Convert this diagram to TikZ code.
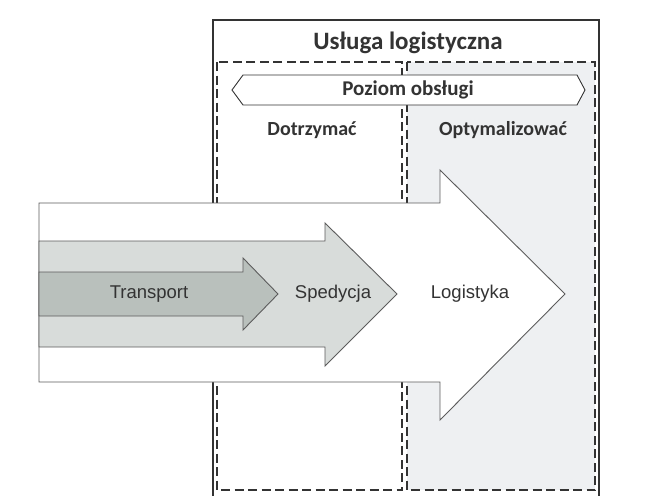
\documentclass[tikz,border=0pt]{standalone}
\usepackage{fontspec}
\setmainfont{Carlito}
\newfontfamily\arrowfont{Liberation Sans}
\usepackage{tikz}
\tikzset{>=latex}
\definecolor{inkgray}{HTML}{333333}
\definecolor{transgray}{HTML}{B9C0BC}
\definecolor{spedgray}{HTML}{D8DCDA}
\definecolor{optgray}{HTML}{EEF0F2}
\tikzset{
  areabox/.style={draw=inkgray,line width=1.2pt,dash pattern=on 9pt off 4.5pt},
  flowarrow/.style={draw=inkgray!80,line width=0.9pt,line join=miter},
  headtext/.style={font=\bfseries\fontsize{20}{24}\selectfont,text=inkgray},
  flowtext/.style={font=\arrowfont\fontsize{18.5}{22}\selectfont,text=inkgray}
}

\begin{document}
\begin{tikzpicture}[x=1pt,y=-1pt]
            \draw[draw=none,fill=white,use as bounding box] (0,0) rectangle (649,496);
            % service frame
            \coordinate (fl) at (213,496);
            \coordinate (fr) at (599,496);
            \draw[inkgray,line width=1.3pt] (fl) -- (213,20) -- (599,20) -- (fr);
            \node[headtext,font=\bfseries\fontsize{25}{30}\selectfont] (usluga) at (408,43) {Usługa logistyczna};
            % keep / optimise areas
            \draw[areabox] (217,62) rectangle (402,490);
            \draw[areabox,fill=optgray] (407,62) rectangle (595,490);
            \draw[inkgray,line width=0.9pt,fill=white]
                (232,90) -- (243,75) -- (577,75) -- (585,90) -- (577,105) -- (243,105) -- cycle;
            \node[headtext,font=\bfseries\fontsize{21}{25}\selectfont] (poziom) at (408,90) {Poziom obsługi};
            \node[headtext] (dotrzymac) at (312,130) {Dotrzymać};
            \node[headtext] (optym) at (503,130) {Optymalizować};
            % nested arrows
            \filldraw[flowarrow,fill=white]
                (39,203) -- (440,203) -- (440,170) -- (565,294) -- (440,420) -- (440,382) -- (39,382) -- cycle;
            \filldraw[flowarrow,fill=spedgray]
                (39,241) -- (325,241) -- (325,223) -- (397,294) -- (325,366) -- (325,347) -- (39,347) -- cycle;
            \filldraw[flowarrow,fill=transgray]
                (39,272) -- (243,272) -- (243,258) -- (278,294) -- (243,330) -- (243,316) -- (39,316) -- cycle;
            \node[flowtext] (transport) at (149,294) {Transport};
            \node[flowtext] (spedycja) at (333,294) {Spedycja};
            \node[flowtext] (logistyka) at (470,294) {Logistyka};
        \end{tikzpicture}
\end{document}
